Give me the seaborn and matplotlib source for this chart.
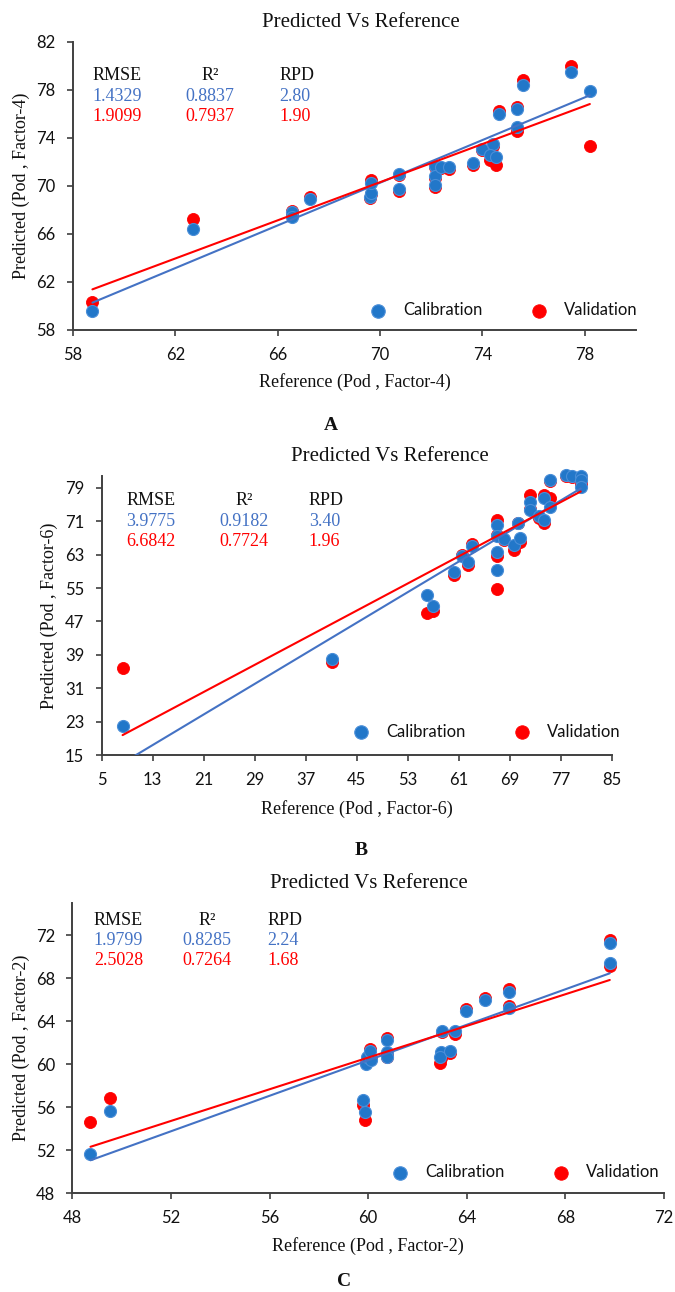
import matplotlib
matplotlib.use("Agg")
import matplotlib.pyplot as plt
import seaborn as sns
import pandas as pd
import numpy as np

# ---------------- data ----------------
# Panel A (Factor-4)
a_ref = [58.76, 62.7, 66.55, 66.55, 67.25, 69.6, 69.65, 69.65, 70.75, 70.75,
         72.15, 72.15, 72.15, 72.4, 72.7, 73.65, 74.0, 74.4, 74.3, 74.55,
         74.65, 75.35, 75.35, 75.6, 77.45, 78.2]
a_cal = [59.6, 66.45, 67.8, 67.45, 68.95, 69.1, 69.4, 70.25, 71.0, 69.75,
         71.7, 70.8, 70.1, 71.6, 71.6, 71.95, 73.1, 73.5, 72.6, 72.45,
         76.0, 76.4, 74.9, 78.4, 79.5, 77.9]
a_val = [60.35, 67.25, 67.95, 67.55, 69.1, 69.0, 69.35, 70.5, 70.9, 69.6,
         71.6, 70.7, 69.95, 71.5, 71.4, 71.75, 73.0, 73.35, 72.2, 71.75,
         76.25, 76.6, 74.6, 78.85, 80.0, 73.3]
a_fit_cal = (0.889, 8.04)     # slope, intercept
a_fit_val = (0.7945, 14.70)
a_stats_cal = ["1.4329", "0.8837", "2.80"]
a_stats_val = ["1.9099", "0.7937", "1.90"]

# Panel B (Factor-6)
b_ref = [8.3, 41.1, 56.0, 56.9, 60.2, 61.5, 62.5, 63.1, 67.0, 67.0,
         67.0, 67.0, 68.0, 69.6, 70.3, 70.6, 72.2, 72.2, 73.6, 74.4,
         74.4, 75.3, 75.3, 77.8, 78.7, 80.1, 80.1, 80.1]
b_cal = [22.0, 38.1, 53.4, 50.8, 58.8, 62.6, 61.2, 65.0, 70.2, 67.4,
         63.6, 59.2, 66.8, 65.2, 70.6, 67.0, 75.6, 73.6, 72.2, 71.2,
         76.6, 74.4, 80.8, 82.0, 81.8, 81.8, 80.9, 79.2]
b_val = [35.8, 37.2, 49.0, 49.5, 58.2, 63.0, 60.4, 65.6, 71.4, 67.6,
         62.6, 54.8, 66.4, 64.1, 70.5, 66.0, 77.3, 73.9, 71.7, 70.6,
         77.3, 76.6, 80.6, 81.9, 81.6, 81.7, 80.7, 79.6]
b_fit_cal = (0.916, 5.47)
b_fit_val = (0.8126, 13.03)
b_stats_cal = ["3.9775", "0.9182", "3.40"]
b_stats_val = ["6.6842", "0.7724", "1.96"]

# Panel C (Factor-2)
c_ref = [48.73, 49.52, 59.8, 59.85, 59.9, 59.95, 60.1, 60.07, 60.75, 60.75,
         60.75, 63.0, 62.95, 62.9, 63.3, 63.5, 63.95, 64.75, 65.7, 65.7,
         69.8, 69.8]
c_cal = [51.65, 55.65, 56.65, 55.5, 60.0, 60.7, 60.4, 61.2, 62.2, 61.1,
         60.65, 63.05, 61.1, 60.7, 61.2, 63.05, 64.9, 66.0, 65.25, 66.75,
         71.3, 69.45]
c_val = [54.6, 56.8, 56.2, 54.8, 60.1, 60.6, 60.5, 61.4, 62.4, 61.0,
         60.7, 63.0, 60.6, 60.1, 61.0, 62.8, 65.1, 66.15, 65.4, 66.95,
         71.6, 69.1]
c_fit_cal = (0.826, 10.8)
c_fit_val = (0.737, 16.39)
c_stats_cal = ["1.9799", "0.8285", "2.24"]
c_stats_val = ["2.5028", "0.7264", "1.68"]

stat_headers = ["RMSE", "R\u00b2", "RPD"]
series_names = ["Calibration", "Validation"]
title_text = "Predicted Vs Reference"

# ---------------- style ----------------
sns.set_theme(style="white")
plt.rcParams["font.family"] = ["Liberation Serif", "DejaVu Serif"]

BLUE_PT = "#2277C9"
BLUE_EDGE = "#4A8ED8"
BLUE_LINE = "#4472C4"
BLUE_TXT = "#4472C4"
RED = "#FF0000"
AXC = "#404040"
TICKFONT = "Lato"

fig = plt.figure(figsize=(6.75, 12.92), dpi=100)

panels = [
    dict(ref=a_ref, cal=a_cal, val=a_val, fc=a_fit_cal, fv=a_fit_val,
         sc=a_stats_cal, sv=a_stats_val, factor="Factor-4", letter="A",
         rect=[0.1081, 0.7446, 0.834, 0.2229],
         xlim=(58, 80), xt=np.arange(58, 79, 4), ylim=(58, 82), yt=np.arange(58, 83, 4),
         title=(0.512, 1.069), stx=(0.034, 0.243, 0.367), sty=(0.882, 0.810, 0.741),
         leg=(0.527, 0.069), ylab=-0.076, xlab=-0.149, letter_pos=(0.490, 0.671)),
    dict(ref=b_ref, cal=b_cal, val=b_val, fc=b_fit_cal, fv=b_fit_val,
         sc=b_stats_cal, sv=b_stats_val, factor="Factor-6", letter="B",
         rect=[0.1504, 0.4156, 0.7563, 0.2159],
         xlim=(5, 85), xt=np.arange(5, 86, 8), ylim=(15, 81.8), yt=np.arange(15, 80, 8),
         title=(0.565, 1.069), stx=(0.048, 0.279, 0.406), sty=(0.911, 0.839, 0.767),
         leg=(0.492, 0.0835), ylab=-0.085, xlab=-0.161, letter_pos=(0.5356, 0.3416)),
    dict(ref=c_ref, cal=c_cal, val=c_val, fc=c_fit_cal, fv=c_fit_val,
         sc=c_stats_cal, sv=c_stats_val, factor="Factor-2", letter="C",
         rect=[0.1074, 0.0766, 0.8763, 0.2245],
         xlim=(48, 72), xt=np.arange(48, 73, 4), ylim=(48, 75), yt=np.arange(48, 73, 4),
         title=(0.501, 1.066), stx=(0.036, 0.227, 0.330), sty=(0.941, 0.870, 0.800),
         leg=(0.540, 0.071), ylab=-0.072, xlab=-0.152, letter_pos=(0.509, 0.0085)),
]

for p in panels:
    ax = fig.add_axes(p["rect"])
    df = pd.DataFrame({"ref": p["ref"], "cal": p["cal"], "val": p["val"]})

    sns.scatterplot(data=df, x="ref", y="val", ax=ax, color=RED, s=75,
                    edgecolor=RED, linewidth=0.6, zorder=2, label=series_names[1],
                    clip_on=False)
    sns.scatterplot(data=df, x="ref", y="cal", ax=ax, color=BLUE_PT, s=75,
                    edgecolor=BLUE_EDGE, linewidth=0.8, zorder=3, label=series_names[0],
                    clip_on=False)

    xs = np.array([df["ref"].min(), df["ref"].max()])
    for (slope, icpt), col in ((p["fc"], BLUE_LINE), (p["fv"], RED)):
        sns.lineplot(x=xs, y=slope * xs + icpt, ax=ax, color=col, lw=1.5,
                     zorder=4, legend=False)

    ax.set_xlim(*p["xlim"])
    ax.set_ylim(*p["ylim"])
    ax.set_xticks(p["xt"])
    ax.set_yticks(p["yt"])
    ax.set_xticklabels([str(int(v)) for v in p["xt"]])
    ax.set_yticklabels([str(int(v)) for v in p["yt"]])
    for lab in ax.get_xticklabels() + ax.get_yticklabels():
        lab.set_fontfamily(TICKFONT)
        lab.set_fontsize(12)
        lab.set_color("#111111")
    ax.tick_params(axis="both", which="major", bottom=True, left=True,
                   direction="out", length=4.5, width=1.2, color=AXC, pad=8)

    for side in ("top", "right"):
        ax.spines[side].set_visible(False)
    for side in ("left", "bottom"):
        ax.spines[side].set_color(AXC)
        ax.spines[side].set_linewidth(1.4)
    ax.grid(False)

    ax.set_xlabel(f"Reference (Pod , {p['factor']})", fontsize=13, color="#111111")
    ax.set_ylabel(f"Predicted (Pod , {p['factor']})", fontsize=13, color="#111111")
    ax.xaxis.set_label_coords(0.5, p["xlab"])
    ax.yaxis.set_label_coords(p["ylab"], 0.5)

    ax.text(p["title"][0], p["title"][1], title_text, transform=ax.transAxes,
            ha="center", va="center", fontsize=15, color="#111111")

    # stats block
    x_r, x_r2, x_rpd = p["stx"]
    y_h, y_c, y_v = p["sty"]
    ax.text(x_r, y_h, stat_headers[0], transform=ax.transAxes, ha="left", va="center",
            fontsize=13, color="#111111")
    ax.text(x_r2, y_h, stat_headers[1], transform=ax.transAxes, ha="center", va="center",
            fontsize=13, color="#111111")
    ax.text(x_rpd, y_h, stat_headers[2], transform=ax.transAxes, ha="left", va="center",
            fontsize=13, color="#111111")
    for vals, yy, col in ((p["sc"], y_c, BLUE_TXT), (p["sv"], y_v, RED)):
        ax.text(x_r, yy, vals[0], transform=ax.transAxes, ha="left", va="center",
                fontsize=13, color=col)
        ax.text(x_r2, yy, vals[1], transform=ax.transAxes, ha="center", va="center",
                fontsize=13, color=col)
        ax.text(x_rpd, yy, vals[2], transform=ax.transAxes, ha="left", va="center",
                fontsize=13, color=col)

    # legend (Calibration first)
    handles, labels = ax.get_legend_handles_labels()
    order = [labels.index(series_names[0]), labels.index(series_names[1])]
    leg = ax.legend([handles[i] for i in order], [labels[i] for i in order],
                    ncol=2, frameon=False, loc="center left",
                    bbox_to_anchor=p["leg"], borderaxespad=0, borderpad=0,
                    handlelength=1.0, handletextpad=1.0, columnspacing=2.9,
                    markerscale=1.12, prop={"family": TICKFONT, "size": 12})
    for t in leg.get_texts():
        t.set_color("#111111")

    fig.text(p["letter_pos"][0], p["letter_pos"][1], p["letter"], ha="center",
             va="center", fontsize=14, fontweight="bold", color="#111111")

fig.savefig("out.png", dpi=100)
